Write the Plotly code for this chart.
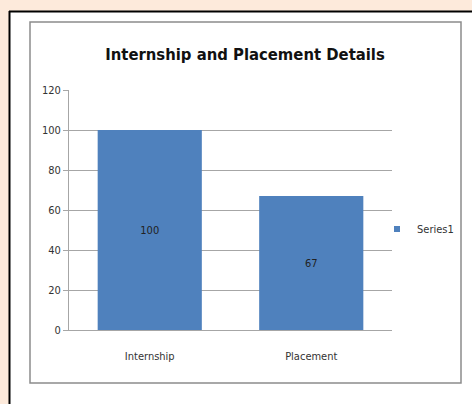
import plotly.graph_objects as go

categories = ["Internship", "Placement"]
values = [100, 67]
series_name = "Series1"
y_ticks = [0, 20, 40, 60, 80, 100, 120]

W, H = 472, 404
L, R, T, B = 69, 392, 90, 330

def px(x):
    return (x - L) / (R - L)

def py(y):
    return (B - y) / (B - T)

font = "DejaVu Sans Condensed, Liberation Sans Narrow, sans-serif"
bar_color = "#4F81BD"
bg = "#FDEADB"

fig = go.Figure()
fig.add_trace(go.Bar(
    x=categories, y=values, name=series_name,
    marker=dict(color=bar_color, line=dict(width=0)),
    width=0.645,
    text=[str(v) for v in values], textposition="inside",
    insidetextanchor="middle",
    textfont=dict(family=font, size=11, color="#222222"),
    showlegend=False,
))
fig.add_trace(go.Scatter(
    x=[None], y=[None], mode="markers", name=series_name,
    marker=dict(symbol="square", size=6, color=bar_color),
    showlegend=True,
))

fig.update_layout(
    width=W, height=H,
    margin=dict(l=L, r=W - R, t=T, b=H - B, pad=0),
    paper_bgcolor=bg,
    plot_bgcolor="rgba(0,0,0,0)",
    font=dict(family=font, size=11, color="#333333"),
    title=dict(text="<b>Internship and Placement Details</b>",
               x=245 / W, xanchor="center",
               y=1 - 54 / H, yanchor="middle",
               font=dict(family=font, size=16.5, color="#111111")),
    legend=dict(x=px(377), y=py(229), xanchor="left", yanchor="middle",
                bgcolor="rgba(0,0,0,0)", font=dict(family=font, size=11, color="#333333")),
    shapes=[
        dict(type="rect", xref="paper", yref="paper", layer="below",
             x0=px(9), x1=px(500), y0=py(430), y1=py(11.5),
             fillcolor="white", line=dict(width=0)),
        dict(type="line", xref="paper", yref="paper", layer="below",
             x0=px(9), x1=px(500), y0=py(11.5), y1=py(11.5),
             line=dict(color="black", width=2)),
        dict(type="line", xref="paper", yref="paper", layer="below",
             x0=px(9.5), x1=px(9.5), y0=py(11), y1=py(430),
             line=dict(color="black", width=2)),
        dict(type="rect", xref="paper", yref="paper", layer="below",
             x0=px(30), x1=px(461), y0=py(383), y1=py(22),
             fillcolor="white", line=dict(color="#8C8C8C", width=1.5)),
    ],
)
fig.update_yaxes(range=[0, 120], tickvals=y_ticks, showgrid=True,
                 gridcolor="#A6A6A6", gridwidth=1,
                 showline=True, linecolor="#A6A6A6", linewidth=1,
                 ticks="outside", ticklen=5, tickcolor="#A6A6A6",
                 tickfont=dict(family=font, size=11, color="#333333"),
                 zeroline=False, fixedrange=True)
fig.update_xaxes(showline=True, linecolor="#A6A6A6", linewidth=1,
                 ticks="", tickfont=dict(family=font, size=11, color="#333333"),
                 ticklabelstandoff=16, fixedrange=True)

fig.write_html(
    "out.html",
    config={"displayModeBar": False},
    post_script="document.body.style.margin='0';document.body.style.background='%s';"
                "document.body.style.overflow='hidden';" % bg,
)
